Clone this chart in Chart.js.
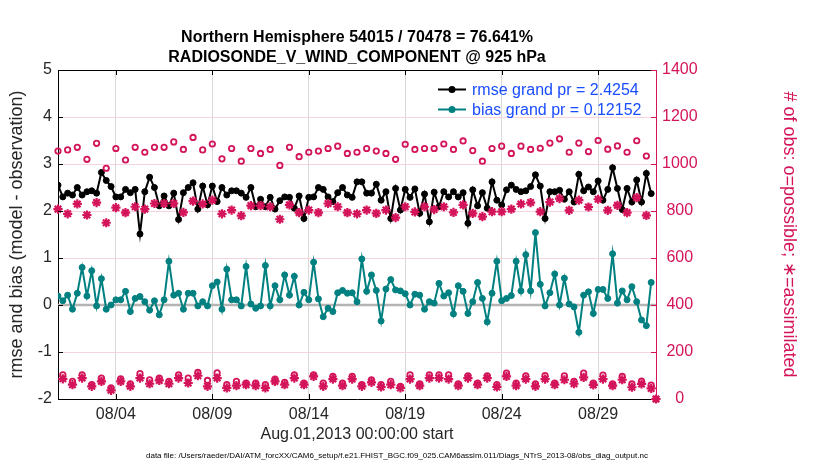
<!DOCTYPE html>
<html>
<head>
<meta charset="utf-8">
<script src="https://cdn.jsdelivr.net/npm/chart.js@4.4.1/dist/chart.umd.min.js"></script>
<style>
  html, body { margin: 0; padding: 0; background: #fff; }
  #wrap { width: 830px; height: 470px; }
</style>
</head>
<body>
<div id="wrap"><canvas id="obsChart" width="830" height="470"></canvas></div>
<script>
// 6-hourly bins, first bin at Aug.01,2013 00:00 (x axis is in days since start)
const binStepDays = 0.25;
const xMaxDays = 31;

const rmse = [
  2.55, 2.30, 2.38, 2.34, 2.50, 2.34, 2.41, 2.43, 2.38, 2.82,
  2.65, 2.52, 2.30, 2.30, 2.46, 2.39, 2.46, 1.51, 2.41, 2.72,
  2.50, 2.11, 2.32, 2.11, 2.38, 1.82, 2.39, 2.50, 2.60, 2.04,
  2.53, 2.13, 2.53, 2.20, 2.50, 2.34, 2.43, 2.43, 2.38, 2.29,
  2.50, 2.09, 2.25, 2.09, 2.29, 2.04, 2.22, 2.30, 2.29, 2.06,
  2.32, 1.84, 2.29, 2.30, 2.50, 2.46, 2.30, 2.20, 2.39, 2.50,
  2.34, 2.29, 2.62, 2.62, 2.38, 2.38, 2.57, 2.23, 2.41, 1.84,
  2.48, 2.02, 2.46, 2.29, 2.47, 1.95, 2.36, 1.77, 2.40, 2.09,
  2.41, 2.30, 2.41, 2.30, 2.39, 1.74, 2.45, 2.11, 2.39, 2.06,
  2.62, 2.23, 2.13, 2.45, 2.55, 2.46, 2.41, 2.43, 2.52, 2.77,
  2.53, 1.84, 2.41, 2.41, 2.44, 2.25, 2.41, 2.19, 2.78, 2.43,
  2.51, 2.41, 2.64, 2.23, 2.46, 2.92, 2.48, 2.03, 2.48, 2.19,
  2.66, 2.19, 2.80, 2.37
];

const bias = [
  0.19, 0.09, 0.21, -0.09, 0.25, 0.80, 0.19, 0.73, -0.02, 0.56,
  -0.09, 0.00, 0.11, 0.11, 0.29, -0.14, 0.14, 0.18, 0.07, -0.11,
  0.09, -0.21, 0.11, 0.93, 0.21, 0.25, -0.09, 0.25, 0.25, -0.02,
  0.07, -0.02, 0.41, 0.49, -0.09, 0.76, 0.11, 0.11, -0.02, 0.82,
  0.02, -0.07, -0.02, 0.84, -0.02, 0.41, 0.11, 0.64, 0.21, 0.61,
  0.00, 0.27, 0.11, 0.91, 0.13, -0.25, -0.07, -0.14, 0.26, 0.31,
  0.25, 0.26, 0.07, 0.98, 0.29, 0.64, 0.31, -0.34, 0.34, 0.54,
  0.32, 0.30, 0.24, 0.00, 0.23, 0.21, -0.09, 0.07, 0.04, 0.46,
  0.19, 0.26, -0.19, 0.41, 0.29, -0.18, 0.07, 0.48, 0.14, -0.36,
  0.25, 0.93, 0.09, 0.14, 0.20, 0.93, 0.30, 1.07, 0.30, 1.54,
  0.44, -0.02, 0.26, 0.66, 0.00, 0.57, 0.02, -0.04, -0.58, 0.21,
  0.28, -0.18, 0.33, 0.33, 0.14, 1.09, 0.04, 0.30, 0.11, 0.39,
  0.07, -0.32, -0.44, 0.48
];

const possible = [
  1055, 103, 1060, 75, 1071, 103, 1020, 61, 1088, 89,
  982, 47, 1066, 86, 1017, 65, 1071, 108, 1050, 82,
  1071, 89, 1071, 75, 1094, 103, 1062, 89, 1113, 113,
  1060, 79, 1085, 111, 1022, 61, 1066, 75, 1012, 68,
  1066, 68, 1045, 61, 1062, 85, 994, 71, 1071, 103,
  1031, 68, 1050, 103, 1055, 68, 1066, 96, 1076, 68,
  1045, 96, 1050, 61, 1066, 82, 1055, 61, 1045, 75,
  1020, 54, 1084, 103, 1062, 65, 1066, 103, 1066, 103,
  1085, 103, 1062, 65, 1098, 99, 1057, 68, 1012, 99,
  1066, 61, 1076, 110, 1045, 68, 1076, 99, 1062, 65,
  1067, 100, 1089, 68, 1107, 99, 1050, 75, 1089, 110,
  1053, 68, 1100, 102, 1063, 64, 1077, 96, 1050, 64,
  1099, 76, 1034, 59, 0
];

const assimilated = [
  808, 86, 788, 61, 830, 89, 783, 54, 836, 75,
  750, 37, 814, 75, 793, 54, 818, 89, 808, 65,
  832, 79, 832, 65, 832, 89, 794, 68, 842, 99,
  830, 54, 846, 89, 788, 47, 804, 57, 780, 61,
  823, 57, 823, 47, 818, 75, 765, 61, 826, 89,
  793, 61, 804, 96, 793, 54, 832, 85, 818, 57,
  793, 85, 788, 54, 804, 71, 790, 51, 804, 61,
  772, 47, 818, 85, 796, 57, 818, 89, 806, 89,
  818, 85, 794, 57, 826, 89, 790, 61, 776, 89,
  797, 51, 797, 96, 808, 57, 830, 85, 836, 54,
  797, 85, 838, 61, 853, 82, 803, 65, 846, 92,
  817, 60, 850, 85, 803, 57, 824, 82, 793, 50,
  857, 64, 781, 45, 0
];

const tickDays = [3, 8, 13, 18, 23, 28];
const tickLabels = ['08/04', '08/09', '08/14', '08/19', '08/24', '08/29'];

const titleLines = ['Northern Hemisphere 54015 / 70478 = 76.641%', 'RADIOSONDE_V_WIND_COMPONENT @ 925 hPa'];
const rmseLabel = 'rmse grand pr = 2.4254';
const biasLabel = 'bias grand pr = 0.12152';
const xTitle = 'Aug.01,2013 00:00:00 start';
const leftTitle = 'rmse and bias (model - observation)';
const rightTitle = '# of obs: o=possible; \u2217=assimilated';
const footer = 'data file: /Users/raeder/DAI/ATM_forcXX/CAM6_setup/f.e21.FHIST_BGC.f09_025.CAM6assim.011/Diags_NTrS_2013-08/obs_diag_output.nc';

const FONT = '"Liberation Sans", Arial, Helvetica, sans-serif';
const CRIMSON = '#d4145a';
const TEAL = '#008080';
const TXT = '#262626';
const LEGEND_BLUE = '#1a4dff';

const toPoints = arr => arr.map((v, i) => ({x: i * binStepDays, y: v}));

const decor = {
  id: 'decor',
  beforeDatasetsDraw(chart) {
    const {ctx, chartArea: a, scales} = chart;
    const y0 = scales.y.getPixelForValue(0);
    ctx.save();
    ctx.strokeStyle = '#b4b4b4';
    ctx.lineWidth = 2.5;
    ctx.beginPath();
    ctx.moveTo(a.left, y0);
    ctx.lineTo(a.right, y0);
    ctx.stroke();
    ctx.restore();
  },
  afterDraw(chart) {
    const {ctx, chartArea: a, scales} = chart;
    ctx.save();

    // box top edge
    ctx.strokeStyle = '#000';
    ctx.lineWidth = 1;
    ctx.beginPath();
    ctx.moveTo(a.left, a.top + 0.5);
    ctx.lineTo(a.right, a.top + 0.5);
    ctx.stroke();

    // inward tick marks
    const tl = 5;
    ctx.beginPath();
    scales.x.ticks.forEach(t => {
      const x = Math.round(scales.x.getPixelForValue(t.value)) + 0.5;
      ctx.moveTo(x, a.bottom); ctx.lineTo(x, a.bottom - tl);
      ctx.moveTo(x, a.top); ctx.lineTo(x, a.top + tl);
    });
    scales.y.ticks.forEach(t => {
      const y = Math.round(scales.y.getPixelForValue(t.value)) + 0.5;
      ctx.moveTo(a.left, y); ctx.lineTo(a.left + tl, y);
    });
    ctx.stroke();
    ctx.strokeStyle = CRIMSON;
    ctx.beginPath();
    scales.y1.ticks.forEach(t => {
      const y = Math.round(scales.y1.getPixelForValue(t.value)) + 0.5;
      ctx.moveTo(a.right, y); ctx.lineTo(a.right - tl, y);
    });
    ctx.stroke();

    // title
    const cx = (a.left + a.right) / 2;
    ctx.fillStyle = '#000';
    ctx.font = 'bold 16px ' + FONT;
    ctx.textAlign = 'center';
    ctx.textBaseline = 'alphabetic';
    ctx.fillText(titleLines[0], cx, 42);
    ctx.fillText(titleLines[1], cx, 61.5);

    // legend
    const items = [chart.data.datasets[2], chart.data.datasets[3]];
    const lx = a.right - 218;
    items.forEach((ds, k) => {
      const ly = a.top + 19.5 + k * 20;
      ctx.strokeStyle = ds.borderColor;
      ctx.lineWidth = 2;
      ctx.beginPath();
      ctx.moveTo(lx, ly); ctx.lineTo(lx + 28, ly);
      ctx.stroke();
      ctx.fillStyle = ds.borderColor;
      ctx.beginPath();
      ctx.arc(lx + 14, ly, 3.5, 0, Math.PI * 2);
      ctx.fill();
      ctx.fillStyle = LEGEND_BLUE;
      ctx.font = '16px ' + FONT;
      ctx.textAlign = 'left';
      ctx.fillText(ds.label, lx + 34, ly + 5.5);
    });

    // footer
    ctx.fillStyle = '#000';
    ctx.font = '8px ' + FONT;
    ctx.textAlign = 'left';
    ctx.fillText(footer, 146, 458);
    ctx.restore();
  }
};

new Chart(document.getElementById('obsChart'), {
  type: 'line',
  data: {
    datasets: [
      {
        label: 'assimilated', data: toPoints(assimilated), yAxisID: 'y1', order: 0,
        showLine: false, pointStyle: 'star', pointRadius: 4.6, pointBorderWidth: 2.2,
        borderColor: CRIMSON, pointBorderColor: CRIMSON, pointBackgroundColor: CRIMSON, clip: false
      },
      {
        label: 'possible', data: toPoints(possible), yAxisID: 'y1', order: 1,
        showLine: false, pointStyle: 'circle', pointRadius: 2.7, pointBorderWidth: 1.8,
        borderColor: CRIMSON, pointBorderColor: CRIMSON, pointBackgroundColor: 'rgba(0,0,0,0)', clip: false
      },
      {
        label: rmseLabel, data: toPoints(rmse), yAxisID: 'y', order: 2,
        borderColor: '#000', borderWidth: 2, pointRadius: 3, pointBorderWidth: 1,
        pointBackgroundColor: '#000', pointBorderColor: '#000', tension: 0
      },
      {
        label: biasLabel, data: toPoints(bias), yAxisID: 'y', order: 3,
        borderColor: TEAL, borderWidth: 2, pointRadius: 3, pointBorderWidth: 1,
        pointBackgroundColor: TEAL, pointBorderColor: TEAL, tension: 0
      }
    ]
  },
  options: {
    responsive: false,
    animation: false,
    devicePixelRatio: 1,
    events: [],
    layout: {padding: {top: 70, right: 30, bottom: 21, left: 0}},
    plugins: {legend: {display: false}, tooltip: {enabled: false}, title: {display: false}},
    scales: {
      x: {
        type: 'linear', min: 0, max: xMaxDays, position: 'bottom',
        afterBuildTicks: s => { s.ticks = tickDays.map(v => ({value: v})); },
        afterFit: s => { s.height = 50; },
        ticks: {
          autoSkip: false, maxRotation: 0, padding: 6, color: TXT,
          font: {family: FONT, size: 16},
          callback: v => tickLabels[tickDays.indexOf(v)]
        },
        grid: {color: '#d9d9d9', lineWidth: 1, drawTicks: false},
        border: {display: true, color: '#000', width: 1},
        title: {display: true, text: xTitle, color: TXT, font: {family: FONT, size: 16}, padding: {top: 0, bottom: 5}}
      },
      y: {
        type: 'linear', position: 'left', min: -2, max: 5,
        afterFit: s => { s.width = 58; },
        ticks: {stepSize: 1, padding: 6, color: TXT, font: {family: FONT, size: 16}, callback: v => String(v)},
        grid: {display: false, drawTicks: false},
        border: {display: true, color: '#000', width: 1},
        title: {display: true, text: leftTitle, color: TXT, font: {family: FONT, size: 18}, padding: {top: 6, bottom: 0}}
      },
      y1: {
        type: 'linear', position: 'right', min: 0, max: 1400,
        afterFit: s => { s.width = 144; },
        ticks: {
          stepSize: 200, padding: 6, color: CRIMSON, crossAlign: 'center',
          font: {family: FONT, size: 16}, callback: v => String(v)
        },
        grid: {color: '#f5d3df', lineWidth: 1, drawTicks: false},
        border: {display: true, color: CRIMSON, width: 1},
        title: {display: true, text: rightTitle, color: CRIMSON, font: {family: FONT, size: 18}, padding: {top: 0, bottom: 0}}
      }
    }
  },
  plugins: [decor]
});
</script>
</body>
</html>
